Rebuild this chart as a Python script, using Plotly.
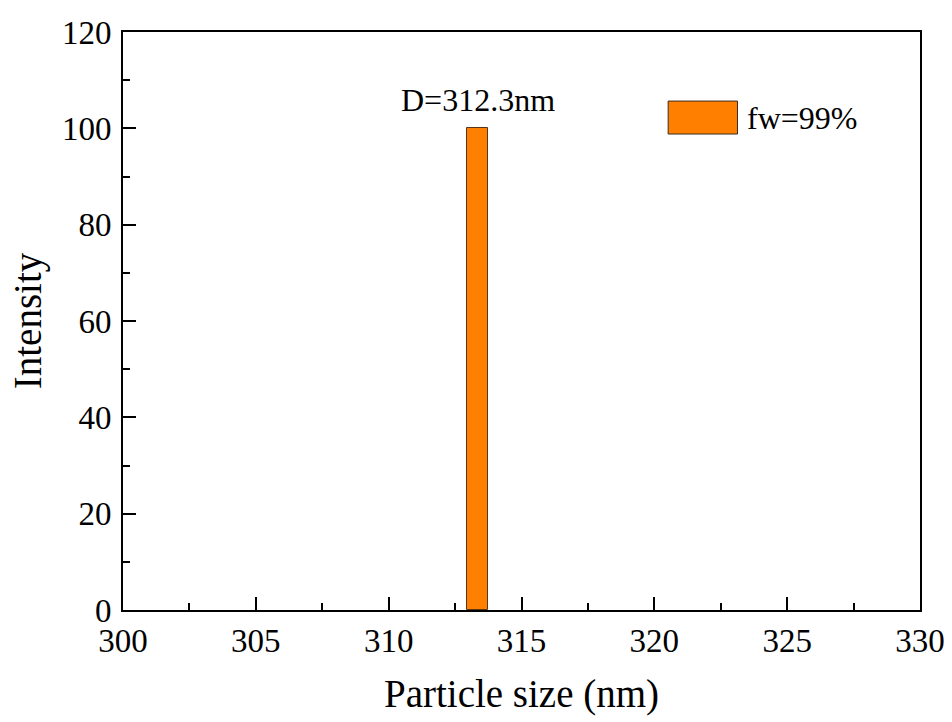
import plotly.graph_objects as go

sizes = [313.35]
intensity = [100]
bar_width = [0.8]
series_name = "fw=99%"
peak_label = "D=312.3nm"
x_title = "Particle size (nm)"
y_title = "Intensity"

font_family = "Liberation Serif, Times New Roman, serif"

fig = go.Figure()
fig.add_trace(go.Bar(
    x=sizes, y=intensity, width=bar_width, name=series_name,
    marker=dict(color="#FF8000", line=dict(color="#5a3418", width=1)),
    showlegend=False,
))

fig.add_annotation(x=sizes[0], y=intensity[0], text=peak_label, showarrow=False,
                   yshift=28, font=dict(size=32, color="black", family=font_family))

# manual legend (wide swatch as in the reference)
fig.add_shape(type="rect", xref="paper", yref="paper",
              x0=0.684, x1=0.771, y0=0.8235, y1=0.8805,
              fillcolor="#FF8000", line=dict(color="#3a2a1a", width=1))
fig.add_annotation(xref="paper", yref="paper", x=0.78, y=0.852, text=series_name,
                   showarrow=False, xanchor="left", yanchor="middle",
                   font=dict(size=32, color="black", family=font_family))

axis_common = dict(
    showline=True, linecolor="black", linewidth=2, mirror=True,
    ticks="inside", ticklen=13, tickwidth=1.5, tickcolor="black",
    showgrid=False, zeroline=False, automargin=False,
    tickfont=dict(size=33, color="black", family=font_family),
)

fig.update_xaxes(range=[300, 330], dtick=5, tick0=300,
                 minor=dict(ticks="inside", ticklen=7, tickwidth=1.5, tickcolor="black", dtick=2.5),
                 title=dict(text=x_title, font=dict(size=39, color="black", family=font_family), standoff=22),
                 **axis_common)
fig.update_yaxes(range=[0, 120], dtick=20, tick0=0,
                 minor=dict(ticks="inside", ticklen=7, tickwidth=1.5, tickcolor="black", dtick=10),
                 title=dict(text=y_title, font=dict(size=39, color="black", family=font_family), standoff=8),
                 ticklabelstandoff=3,
                 **axis_common)

fig.update_layout(
    width=952, height=722,
    margin=dict(l=123, r=32, t=32, b=112),
    plot_bgcolor="white", paper_bgcolor="white",
    bargap=0,
)

fig.write_html("out.html", config={"displayModeBar": False},
               post_script="document.body.style.margin='0';")
